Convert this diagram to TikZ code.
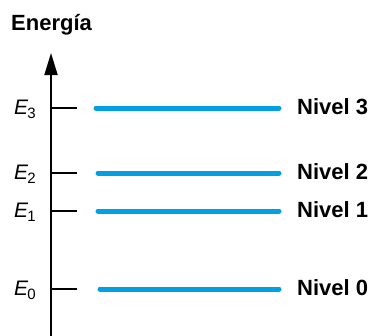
\documentclass[tikz,border=0pt]{standalone}
\usepackage{fontspec}
\setmainfont{Liberation Sans}
\usetikzlibrary{arrows.meta}
\definecolor{levelblue}{RGB}{0,160,227}
\newcommand\enlabel[1]{\textit{E}\kern-1pt\raisebox{-0.4ex}{\fontsize{15}{15}\selectfont #1}}
\tikzset{
  axisline/.style={line width=1.8pt, black},
  tickline/.style={line width=1.4pt, black},
  levelline/.style={line width=5pt, levelblue, line cap=round},
  levelname/.style={font=\fontsize{22}{22}\selectfont\bfseries, anchor=west, inner sep=0pt},
  energyname/.style={font=\fontsize{21}{21}\selectfont, anchor=center, inner sep=0pt},
}
\begin{document}
\begin{tikzpicture}[x=1pt,y=-1pt]
\useasboundingbox (0,0) rectangle (372,335);
% title
\node[font=\fontsize{22}{22}\selectfont\bfseries, anchor=west, inner sep=0pt] (title) at (11,25) {Energía};
% energy axis
\coordinate (axbot) at (51,336);
\coordinate (axtop) at (51,53);
\draw[axisline, -{Triangle[length=22pt,width=13pt]}] (axbot) -- (axtop);
% levels: tick, symbol, blue line, name
\foreach \n/\y/\xs in {3/108/96, 2/173/98, 1/211/98, 0/289/100}{
  \coordinate (tk\n) at (51,\y);
  \coordinate (tkend\n) at (77,\y);
  \draw[tickline] (tk\n) -- (tkend\n);
  \node[energyname] (E\n) at (25,\y+1.5) {\enlabel{\n}};
  \coordinate (ls\n) at (\xs,\y);
  \coordinate (le\n) at (279,\y);
  \draw[levelline] (ls\n) -- (le\n);
  \node[levelname] (N\n) at (297,\y-1) {Nivel \n};
}
\end{tikzpicture}
\end{document}
